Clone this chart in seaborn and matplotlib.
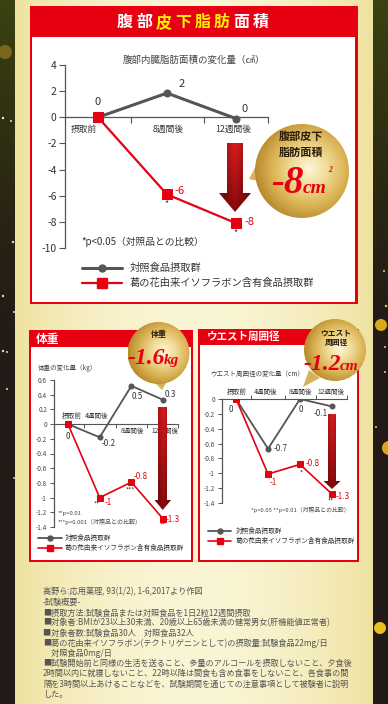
import numpy as np
import seaborn as sns
import matplotlib
matplotlib.use('Agg')
import matplotlib.pyplot as plt
from matplotlib.patches import Rectangle, Circle, Polygon
from matplotlib.colors import LinearSegmentedColormap, to_rgb

# ---------------- data ----------------
area_times = ['摂取前', '8週間後', '12週間後']
area_control = [0, 1.85, -0.1]
area_isoflavone = [0, -5.9, -8.1]
area_control_labels = ['0', '2', '0']
area_iso_labels = ['', '-6', '-8']
area_sig = ['', '*', '*']

weight_times = ['摂取前', '4週間後', '8週間後', '12週間後']
weight_control = [0, -0.18, 0.52, 0.33]
weight_isoflavone = [0, -1.0, -0.79, -1.29]
weight_control_labels = ['0', '-0.2', '0.5', '0.3']
weight_iso_labels = ['', '-1', '-0.8', '-1.3']
weight_sig = ['', '**', '***', '**']

waist_times = ['摂取前', '4週間後', '8週間後', '12週間後']
waist_control = [0, -0.67, 0, -0.1]
waist_isoflavone = [0, -1.01, -0.88, -1.28]
waist_control_labels = ['0', '-0.7', '0', '-0.1']
waist_iso_labels = ['', '-1', '-0.8', '-1.3']
waist_sig = ['', '', '*', '**']

group_labels = ['対照食品摂取群', '葛の花由来イソフラボン含有食品摂取群']

notes = [
    '高野ら:応用薬理, 93(1/2), 1-6,2017より作図',
    '-試験概要-',
    '■摂取方法:試験食品または対照食品を1日2粒12週間摂取',
    '■対象者:BMIが23以上30未満、20歳以上65歳未満の健常男女(肝機能値正常者)',
    '■対象者数:試験食品30人　対照食品32人',
    '■葛の花由来イソフラボン(テクトリゲニンとして)の摂取量:試験食品22mg/日',
    '　対照食品0mg/日',
    '■試験開始前と同様の生活を送ること、多量のアルコールを摂取しないこと、夕食後',
    '2時間以内に就寝しないこと、22時以降は間食も含め食事をしないこと、各食事の間',
    '隔を3時間以上あけることなどを、試験期間を通じての注意事項として被験者に説明',
    'した。',
]

# ---------------- setup ----------------
sns.set_theme(style='white')
plt.rcParams['font.family'] = ['Noto Sans CJK JP', 'DejaVu Sans']
plt.rcParams['axes.unicode_minus'] = False

W, H = 388, 704
fig = plt.figure(figsize=(W / 100, H / 100), dpi=100)
RED = '#e60012'
GRAY = '#555555'
TXT = '#444444'
SERIF = ['Liberation Serif', 'DejaVu Serif']


def px_axes(x0, y0, x1, y1, z=1):
    a = fig.add_axes([x0 / W, 1 - y1 / H, (x1 - x0) / W, (y1 - y0) / H])
    a.set_zorder(z)
    return a


def canvas(z):
    a = fig.add_axes([0, 0, 1, 1])
    a.set_zorder(z)
    a.set_xlim(0, W)
    a.set_ylim(H, 0)
    a.axis('off')
    a.set_autoscale_on(False)
    a.patch.set_alpha(0)
    return a


bg = canvas(0)

# background gradient
X, Y = np.meshgrid(np.linspace(0, 1, W), np.linspace(0, 1, H))
c_center = np.array(to_rgb('#faf5d4'))
c_edge = np.array(to_rgb('#efe2a0'))
t = np.clip((np.abs(X - 0.5) / 0.46) ** 2, 0, 1)
img = c_center * (1 - t[..., None]) + c_edge * t[..., None]
yy = np.arange(H)
d_top = np.array(to_rgb('#3b4210'))
d_mid = np.array(to_rgb('#2a2613'))
d_bot = np.array(to_rgb('#221a17'))
t1 = np.clip(yy / 200, 0, 1)[:, None]
t2 = np.clip((yy - 200) / 140, 0, 1)[:, None]
dark = d_top * (1 - t1) + d_mid * t1
dark = dark * (1 - t2) + d_bot * t2
img[:, :15] = dark[:, None, :]
img[:, 373:] = dark[:, None, :]
bg.imshow(img, extent=(0, W, H, 0), aspect='auto', zorder=0, interpolation='bilinear')

dots = [(5, 52, 7, '#c8a030', 0.45), (3, 118, 1.2, '#ffffff', 0.9), (11, 121, 1, '#ffffff', 0.8),
        (13, 242, 1.2, '#fff4b0', 0.9), (3, 296, 1.2, '#fff0a0', 0.9), (14, 312, 1, '#fff0a0', 0.9),
        (3, 351, 1.2, '#fff0a0', 0.9), (7, 352, 1, '#fff0a0', 0.9), (7, 389, 1, '#fff0a0', 0.9),
        (14, 478, 1, '#fff0a0', 0.8),
        (384, 271, 1, '#ffe060', 0.9), (386, 306, 1.2, '#ffe060', 0.9), (385, 347, 1, '#ffe060', 0.9),
        (385, 372, 1, '#ffe060', 0.9), (376, 427, 1, '#ffe060', 0.9),
        (381, 325, 6, '#d9a81c', 1), (389, 448, 7, '#d9a81c', 1), (380, 628, 6, '#e8c020', 1)]
for x, y, r, c, a in dots:
    bg.add_patch(Circle((x, y), r, fc=c, ec='none', alpha=a, zorder=1))

# boxes
bg.add_patch(Rectangle((30, 6), 328, 298, fc=RED, ec='none', zorder=2))
bg.add_patch(Rectangle((32, 37), 323, 265, fc='white', ec='none', zorder=3))
bg.add_patch(Rectangle((29, 330), 164, 232, fc=RED, ec='none', zorder=2))
bg.add_patch(Rectangle((31, 347), 160, 213, fc='white', ec='none', zorder=3))
bg.add_patch(Rectangle((198, 329), 161, 233, fc=RED, ec='none', zorder=2))
bg.add_patch(Rectangle((200, 345), 157, 215, fc='white', ec='none', zorder=3))


def fmt(v):
    s = f'{v:.1f}'.rstrip('0').rstrip('.')
    return '0' if s in ('-0', '0') else s


def lab(ax, x, y, s, dx, dy, color, size):
    if s:
        ax.annotate(s, (x, y), xytext=(dx, dy), textcoords='offset pixels', ha='center',
                    va='center', color=color, fontsize=size, annotation_clip=False)


def draw_series(ax, ctrl, iso, lw_g, lw_r, ms_g, ms_r):
    pos = np.arange(len(ctrl))
    sns.lineplot(x=pos, y=ctrl, ax=ax, color=GRAY, lw=lw_g, marker='o', ms=ms_g,
                 mec=GRAY, mfc=GRAY, legend=False, zorder=3)
    sns.lineplot(x=pos, y=iso, ax=ax, color=RED, lw=lw_r, marker='s', ms=ms_r,
                 mec=RED, mfc=RED, legend=False, zorder=4)
    ax.set_xlabel('')
    ax.set_ylabel('')


def base_style(ax):
    ax.set_facecolor('none')
    for s in ['top', 'right', 'bottom', 'left']:
        ax.spines[s].set_visible(False)
    ax.spines['left'].set_visible(True)
    ax.spines['left'].set_color(GRAY)
    ax.spines['left'].set_linewidth(0.9)
    ax.grid(False)


# ---------- top chart ----------
ax1 = px_axes(65, 65, 268, 248)
draw_series(ax1, area_control, area_isoflavone, 2.2, 1.6, 5, 6.5)
base_style(ax1)
ax1.set_xlim(-0.478, 2.464)
ax1.set_ylim(-10, 4)
ax1.spines['bottom'].set_visible(True)
ax1.spines['bottom'].set_position(('data', 0))
ax1.spines['bottom'].set_color(GRAY)
ax1.spines['bottom'].set_linewidth(0.9)
ax1.set_yticks(range(-10, 5, 2))
ax1.set_yticklabels([str(v) for v in range(-10, 5, 2)])
ax1.tick_params(axis='y', left=True, direction='out', length=4, width=0.8, color=GRAY,
                labelsize=7.5, labelcolor='#333333', pad=2)
ax1.set_xticks([])
ax1.set_xticks([0.48, 1.54, 2.46], minor=True)
ax1.tick_params(axis='x', which='minor', bottom=True, direction='out', length=4, width=0.8, color=GRAY)
for (x, s, dx) in zip(range(3), area_times, [-14, 1, -3]):
    lab(ax1, x, 0, s, dx, -12, '#333333', 6.3)
c_off = [(0, 15), (15, 9), (9, 10)]
r_off = [(0, 0), (13, 3), (14, 1)]
for i in range(3):
    lab(ax1, i, area_control[i], area_control_labels[i], *c_off[i], '#333333', 8)
    lab(ax1, i, area_isoflavone[i], area_iso_labels[i], *r_off[i], RED, 8)
    lab(ax1, i, area_isoflavone[i], area_sig[i], 0, -9, '#333333', 6.5)

# ---------- weight chart ----------
ax2 = px_axes(54, 380, 178, 527)
draw_series(ax2, weight_control, weight_isoflavone, 1.3, 1.2, 3.6, 4.2)
base_style(ax2)
ax2.set_xlim(-0.44, 3.47)
ax2.set_ylim(-1.4, 0.6)
ax2.spines['bottom'].set_visible(True)
ax2.spines['bottom'].set_position(('data', 0))
ax2.spines['bottom'].set_color(GRAY)
ax2.spines['bottom'].set_linewidth(0.8)
yt = np.round(np.arange(-1.4, 0.61, 0.2), 1)
ax2.set_yticks(yt)
ax2.set_yticklabels([fmt(v) for v in yt])
ax2.tick_params(axis='y', left=True, direction='out', length=3, width=0.7, color=GRAY,
                labelsize=4.6, labelcolor=TXT, pad=2)
ax2.set_xticks([])
ax2.set_xticks([0.5, 1.5, 2.5, 3.47], minor=True)
ax2.tick_params(axis='x', which='minor', bottom=True, direction='out', length=3, width=0.7, color=GRAY)
for x, s, dx, dy in zip(range(4), weight_times, [4, -3, 1, 2], [8, 8, -7, -7]):
    lab(ax2, x, 0, s, dx, dy, '#333333', 4.8)
c_off = [(0, -12), (9, -6), (6, -11), (7, 5)]
r_off = [(0, 0), (9, -5), (9, 6), (10, -1)]
s_off = [(0, 0), (-3, -7), (-1, -9), (0, -7)]
for i in range(4):
    lab(ax2, i, weight_control[i], weight_control_labels[i], *c_off[i], '#333333', 5.8)
    lab(ax2, i, weight_isoflavone[i], weight_iso_labels[i], *r_off[i], RED, 5.8)
    lab(ax2, i, weight_isoflavone[i], weight_sig[i], *s_off[i], '#333333', 4.8)

# ---------- waist chart ----------
ax3 = px_axes(222, 399, 347, 503)
draw_series(ax3, waist_control, waist_isoflavone, 1.3, 1.2, 3.6, 4.2)
base_style(ax3)
ax3.set_xlim(-0.44, 3.47)
ax3.set_ylim(-1.4, 0)
ax3.spines['top'].set_visible(True)
ax3.spines['top'].set_color(GRAY)
ax3.spines['top'].set_linewidth(0.8)
yt = np.round(np.arange(-1.4, 0.01, 0.2), 1)
ax3.set_yticks(yt)
ax3.set_yticklabels([fmt(v) for v in yt])
ax3.tick_params(axis='y', left=True, direction='out', length=3, width=0.7, color=GRAY,
                labelsize=4.6, labelcolor=TXT, pad=2)
ax3.set_xticks([])
ax3.set_xticks([0.47, 1.53, 2.5, 3.47], minor=True)
ax3.tick_params(axis='x', which='minor', top=True, bottom=False, direction='out', length=3,
                width=0.7, color=GRAY)
for x, s, dx in zip(range(4), waist_times, [1, -2, 0, -1]):
    lab(ax3, x, 0, s, dx, 7, '#333333', 4.8)
c_off = [(-5, -10), (13, 0), (1, -10), (-11, -7)]
r_off = [(0, 0), (5, -8), (13, 1), (11, -2)]
s_off = [(0, 0), (0, 0), (1, -9), (-1, -8)]
for i in range(4):
    lab(ax3, i, waist_control[i], waist_control_labels[i], *c_off[i], '#333333', 5.8)
    lab(ax3, i, waist_isoflavone[i], waist_iso_labels[i], *r_off[i], RED, 5.8)
    lab(ax3, i, waist_isoflavone[i], waist_sig[i], *s_off[i], '#333333', 4.8)

# ---------------- foreground decorations ----------------
fg = canvas(5)

# header texts
hdr_cols = ['white', 'white', '#fff200', '#fff200', '#fff200', '#fff200', 'white', 'white']
for i, ch in enumerate('腹部皮下脂肪面積'):
    fg.text(124.7 + 19.4 * i, 22, ch, color=hdr_cols[i], fontsize=11.5, fontweight='bold',
            ha='center', va='center')
fg.text(36, 339, '体重', color='white', fontsize=8.5, fontweight='bold', ha='left', va='center')
fg.text(207, 337, 'ウエスト周囲径', color='white', fontsize=7.6, fontweight='bold', ha='left', va='center')

# chart titles & footnotes
fg.text(194, 60, '腹部内臓脂肪面積の変化量（㎠）', color=TXT, fontsize=6.8, ha='center', va='center')
fg.text(81, 242, '*p<0.05（対照品との比較）', color='#333333', fontsize=7, ha='left', va='center')
fg.text(38, 368, '体重の変化量（kg）', color=TXT, fontsize=4.7, ha='left', va='center')
fg.text(58, 514, '**p<0.01', color=TXT, fontsize=4.3, ha='left', va='center')
fg.text(58, 522, '***p<0.001（対照品との比較）', color=TXT, fontsize=4.3, ha='left', va='center')
fg.text(210, 374, 'ウエスト周囲径の変化量（cm）', color=TXT, fontsize=4.7, ha='left', va='center')
fg.text(251, 510, '*p<0.05 **p<0.01（対照品との比較）', color=TXT, fontsize=4.2, ha='left', va='center')


# legends
def legend_rows(x0, x1, xt, ys, fs, lw_g, lw_r, ms_g, ms_r):
    fg.plot([x0, x1], [ys[0], ys[0]], color=GRAY, lw=lw_g)
    fg.plot([(x0 + x1) / 2], [ys[0]], marker='o', ms=ms_g, color=GRAY)
    fg.plot([x0, x1], [ys[1], ys[1]], color=RED, lw=lw_r)
    fg.plot([(x0 + x1) / 2], [ys[1]], marker='s', ms=ms_r, color=RED)
    for y, s in zip(ys, group_labels):
        fg.text(xt, y, s, color='#333333', fontsize=fs, ha='left', va='center')


legend_rows(82, 122, 130, (268, 283), 7.4, 2.2, 1.6, 5, 6.5)
legend_rows(38, 62, 65, (538, 548), 4.8, 1.3, 1.2, 3.6, 4.2)
legend_rows(208, 231, 236, (531, 541), 4.8, 1.3, 1.2, 3.6, 4.2)


# gradient arrows
def arrow(xl, xr, hl, hr, yt, yh, ty):
    tipx = (hl + hr) / 2
    pts = [(xl, yt), (xr, yt), (xr, yh), (hr, yh), (tipx, ty), (hl, yh), (xl, yh)]
    poly = Polygon(pts, closed=True, fc='none', ec='none')
    fg.add_patch(poly)
    n = 120
    u, v = np.meshgrid(np.linspace(0, 1, n), np.linspace(0, 1, n))
    top = np.array(to_rgb('#dc1a1e'))
    bot = np.array(to_rgb('#8a0a0c'))
    col = top * (1 - v[..., None]) + bot * v[..., None]
    shade = 1 - 0.35 * np.abs(u - 0.5) * 2
    col = col * shade[..., None]
    im = fg.imshow(np.clip(col, 0, 1), extent=(hl, hr, ty, yt), aspect='auto', zorder=6,
                   interpolation='bilinear')
    im.set_clip_path(poly)


arrow(227, 243, 219, 251, 143, 193, 212)
arrow(158, 167, 154.5, 171, 407, 500, 510)
arrow(328, 336, 323.5, 340.5, 414, 481, 489)

# gold circles
gold_cmap = LinearSegmentedColormap.from_list('gold', ['#fdf6d8', '#f1dc98', '#dcb658', '#b98a2c'])


def gold(cx, cy, r, tail):
    fg.add_patch(Polygon(tail, closed=True, fc='#d8b25a', ec='none', zorder=7))
    circ = Circle((cx, cy), r, fc='none', ec='none')
    fg.add_patch(circ)
    n = 200
    u, v = np.meshgrid(np.linspace(-1, 1, n), np.linspace(-1, 1, n))
    d = np.sqrt((u - 0.15) ** 2 + (v + 0.05) ** 2) / 1.15
    im = fg.imshow(gold_cmap(np.clip(d, 0, 1)), extent=(cx - r, cx + r, cy + r, cy - r),
                   aspect='auto', zorder=8, interpolation='bilinear')
    im.set_clip_path(circ)


gold(302, 171, 47, [(258, 162), (249, 179), (263, 182)])
gold(158.5, 353, 31, [(152, 380), (162, 390), (168, 380)])
gold(335, 350, 31, [(309, 370), (303, 387), (320, 378)])

DARK = '#2b1d0c'
fg.text(301, 136, '腹部皮下', color=DARK, fontsize=8, fontweight='bold', ha='center', va='center', zorder=9)
fg.text(301, 152, '脂肪面積', color=DARK, fontsize=8, fontweight='bold', ha='center', va='center', zorder=9)
fg.text(304, 193, '-8', color=RED, fontsize=28, fontweight='bold', style='italic', family=SERIF,
        ha='right', va='baseline', zorder=9)
fg.text(303, 193, 'cm', color=RED, fontsize=14, fontweight='bold', style='italic', family=SERIF,
        ha='left', va='baseline', zorder=9)
fg.text(330, 170, '2', color=RED, fontsize=5.5, fontweight='bold', style='italic', family=SERIF,
        ha='center', va='center', zorder=9)

fg.text(159, 335, '体重', color=DARK, fontsize=5.8, fontweight='bold', ha='center', va='center', zorder=9)
fg.text(165, 364, '-1.6', color=RED, fontsize=17, fontweight='bold', style='italic', family=SERIF,
        ha='right', va='baseline', zorder=9)
fg.text(164, 364, 'kg', color=RED, fontsize=11, fontweight='bold', style='italic', family=SERIF,
        ha='left', va='baseline', zorder=9)

fg.text(336, 333, 'ウエスト', color=DARK, fontsize=5.6, fontweight='bold', ha='center', va='center', zorder=9)
fg.text(336, 342, '周囲径', color=DARK, fontsize=5.6, fontweight='bold', ha='center', va='center', zorder=9)
fg.text(341, 370, '-1.2', color=RED, fontsize=17, fontweight='bold', style='italic', family=SERIF,
        ha='right', va='baseline', zorder=9)
fg.text(340, 370, 'cm', color=RED, fontsize=11, fontweight='bold', style='italic', family=SERIF,
        ha='left', va='baseline', zorder=9)

# bottom notes
note_y = [592, 602, 613, 623, 633, 643, 653, 663, 673, 684, 695]
for y, s in zip(note_y, notes):
    fg.text(43, y, s, color='#555555', fontsize=5.9, ha='left', va='center')

fig.savefig('out.png', dpi=100)
